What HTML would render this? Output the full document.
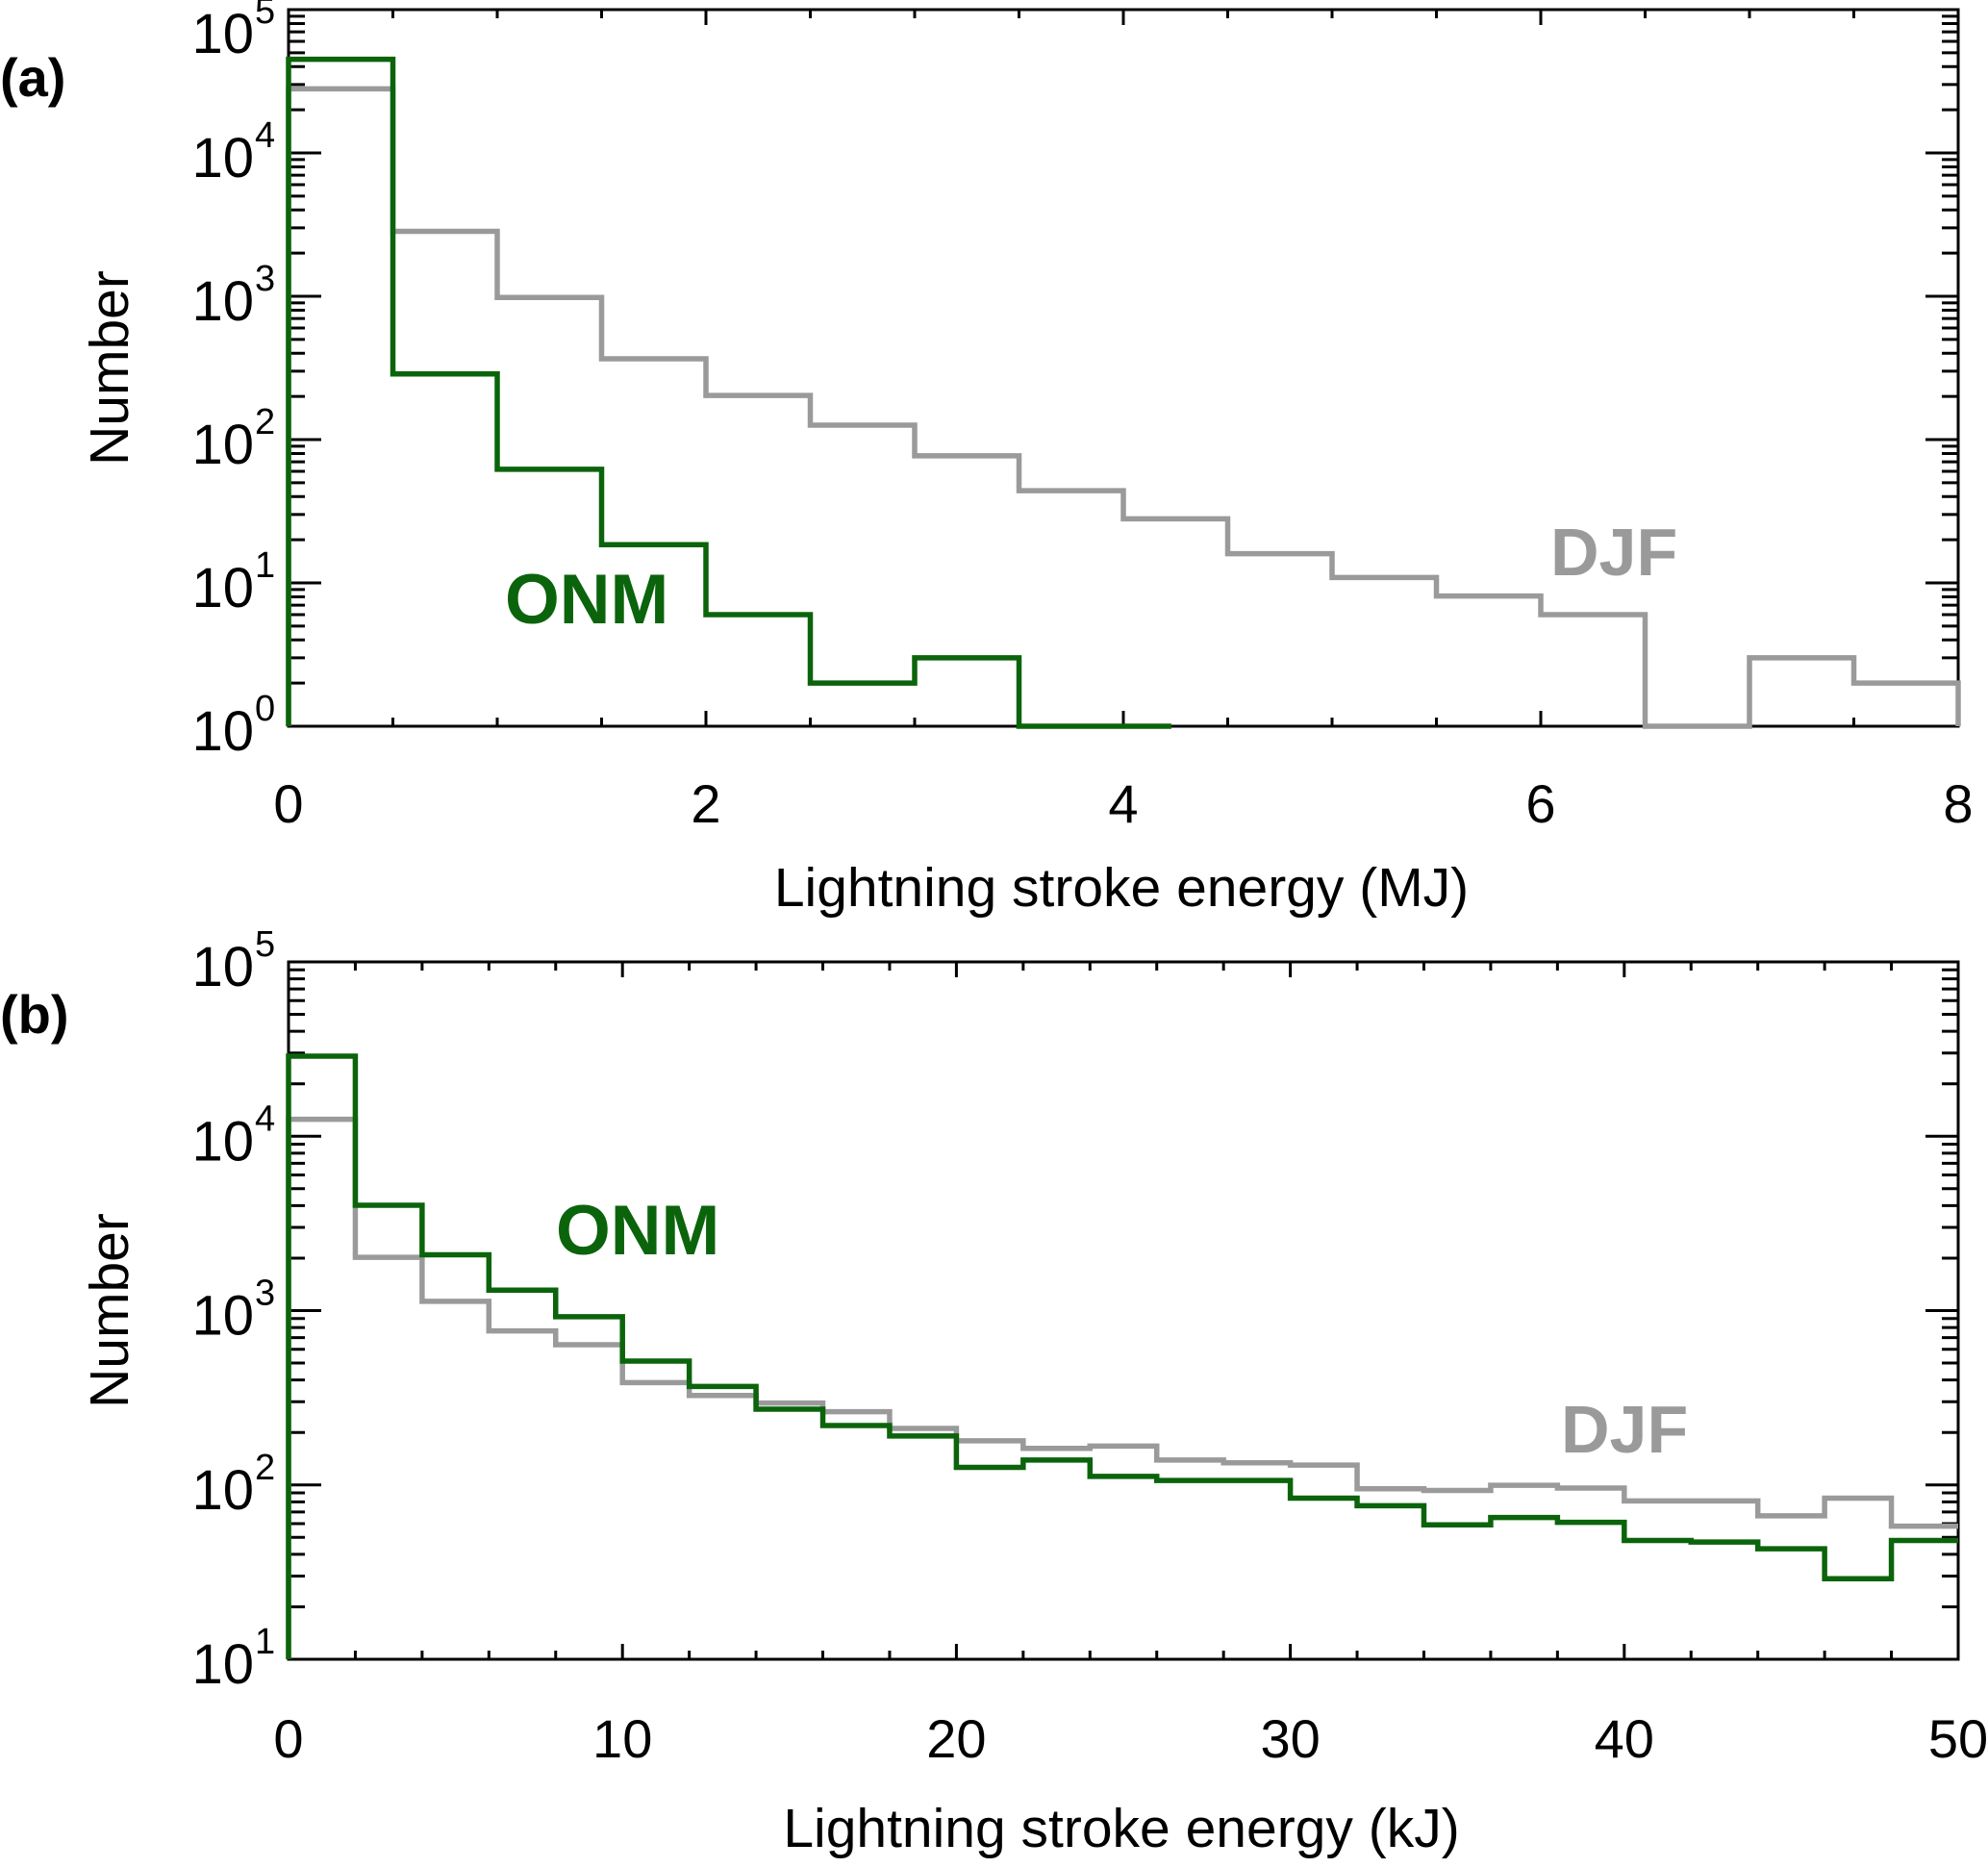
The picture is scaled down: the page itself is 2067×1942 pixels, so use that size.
<!DOCTYPE html>
<html><head><meta charset="utf-8"><style>
html,body{margin:0;padding:0;background:#fff;}
svg{display:block;font-family:"Liberation Sans",sans-serif;}
</style></head><body>
<svg id="chart" width="2067" height="1942" viewBox="0 0 2067 1942" xmlns="http://www.w3.org/2000/svg"></svg>
<script>
// Panel (a): MJ bins of 0.5
const aDjf = [28000, 2840, 980, 366, 203, 126, 77, 44, 28, 16, 10.9, 8.1, 6, 1, 3, 2];
const aOnm = [45000, 287, 62, 18.5, 6, 2, 3, 1, 1];
const aOnmEnd = 4.23;
const aXTicks = [0, 2, 4, 6, 8];
// Panel (b): kJ bins of 2
const bDjf = [12500, 2020, 1130, 765, 637, 386, 326, 295, 263, 211, 179, 162, 167, 139, 134, 130, 95, 93, 99.5, 96, 81, 81, 66.5, 84, 58];
const bOnm = [28800, 4020, 2090, 1310, 922, 513, 367, 272, 219, 191, 126, 139, 112, 106, 106, 84, 76, 59, 65, 61, 48, 47, 43, 29, 48];
const bXTicks = [0, 10, 20, 30, 40, 50];

const NS = "http://www.w3.org/2000/svg";
const svg = document.getElementById("chart");
function mk(tag, attrs, parent) {
  const e = document.createElementNS(NS, tag);
  for (const k in attrs) e.setAttribute(k, attrs[k]);
  (parent || svg).appendChild(e);
  return e;
}
const GREEN = "#0b640b", GRAY = "#9a9a9a";

function panel(cfg) {
  const g = mk("g", {});
  
  
  const L = 300, R = 2036, T = cfg.top, B = cfg.bottom;
  const xs = v => L + (v - cfg.xmin) / (cfg.xmax - cfg.xmin) * (R - L);
  const ys = v => B - (Math.log10(Math.max(v, Math.pow(10, cfg.lmin))) - cfg.lmin) / (cfg.lmax - cfg.lmin) * (B - T);
  const fr = mk("rect", {x: L, y: T, width: R - L, height: B - T, fill: "none", stroke: "#000", "stroke-width": 3}, g);
  
  
  for (let d = cfg.lmin; d < cfg.lmax; d++) {
    for (let m = 1; m <= 9; m++) {
      const y = ys(m * Math.pow(10, d));
      if (y < T) continue;
      const len = m === 1 ? 34 : 17;
      if (!(m === 1 && d === cfg.lmin)) {
        mk("line", {x1: L, x2: L + len, y1: y, y2: y, stroke: "#000", "stroke-width": 3}, g);
        mk("line", {x1: R, x2: R - len, y1: y, y2: y, stroke: "#000", "stroke-width": 3}, g);
      }
    }
  }
  for (let d = cfg.lmin; d <= cfg.lmax; d++) {
    let y = ys(Math.pow(10, d));
    if (y < 30) y = 30;
    const t = mk("text", {x: 264, y: y + 25, "font-size": 58, "text-anchor": "end", fill: "#000"}, g);
    t.textContent = "10";
    
    
    const s = mk("text", {x: 265, y: y - 6, "font-size": 38, fill: "#000"}, g);
    s.textContent = String(d);
    
    
  }
  for (let v = cfg.xmin; v <= cfg.xmax + 1e-9; v += cfg.minor) {
    const x = xs(v);
    const major = Math.abs(v / cfg.major - Math.round(v / cfg.major)) < 1e-6;
    const len = major ? 16 : 9;
    mk("line", {x1: x, x2: x, y1: B, y2: B - len, stroke: "#000", "stroke-width": 3}, g);
    mk("line", {x1: x, x2: x, y1: T, y2: T + len, stroke: "#000", "stroke-width": 3}, g);
  }
  cfg.ticks.forEach(v => {
    const t = mk("text", {x: xs(v), y: cfg.tickY, "font-size": 56, "text-anchor": "middle", fill: "#000"}, g);
    t.textContent = String(v);
    
    
  });
  function step(vals, color, name, endX, dropEnd) {
    const w = cfg.bin;
    let d = `M${xs(0)},${B}`;
    vals.forEach((v, i) => {
      const x0 = xs(i * w), x1 = xs(Math.min((i + 1) * w, endX));
      d += ` L${x0},${ys(v)} L${x1},${ys(v)}`;
    });
    if (dropEnd) d += ` L${xs(Math.min(vals.length * w, endX))},${B}`;
    const p = mk("path", {d: d, fill: "none", stroke: color, "stroke-width": 5.5, "stroke-linejoin": "miter"}, g);
    
    
  }
  step(cfg.djf, GRAY, "djf-histogram", cfg.xmax, cfg.dropEnd);
  step(cfg.onm, GREEN, "onm-histogram", cfg.onmEnd, false);
  const xt = mk("text", {x: 1166, y: cfg.xTitleY, "font-size": 57, "text-anchor": "middle", fill: "#000"}, g);
  xt.textContent = cfg.xTitle;
  
  
  const yc = (T + B) / 2;
  const yt = mk("text", {x: 0, y: 0, "font-size": 57, "text-anchor": "middle", fill: "#000", transform: `translate(133,${yc}) rotate(-90)`}, g);
  yt.textContent = "Number";
  
  
  const pl = mk("text", {x: 0, y: cfg.labelY, "font-size": 56, "font-weight": "bold", fill: "#000"}, g);
  pl.textContent = cfg.label;
  
  
  const on = mk("text", {x: cfg.onmPos[0], y: cfg.onmPos[1], "font-size": 73, "font-weight": "bold", fill: GREEN}, g);
  on.textContent = "ONM";
  
  
  const dj = mk("text", {x: cfg.djfPos[0], y: cfg.djfPos[1], "font-size": 70, "font-weight": "bold", fill: GRAY}, g);
  dj.textContent = "DJF";
  
  
}

panel({name: "panel-a", top: 10, bottom: 755, xmin: 0, xmax: 8, lmin: 0, lmax: 5, minor: 0.5, major: 2, bin: 0.5,
  ticks: aXTicks, djf: aDjf, onm: aOnm, onmEnd: aOnmEnd, dropEnd: true, tickY: 855, xTitleY: 942,
  xTitle: "Lightning stroke energy (MJ)", label: "(a)", labelY: 100, onmPos: [525, 648], djfPos: [1612, 598]});
panel({name: "panel-b", top: 1000, bottom: 1725, xmin: 0, xmax: 50, lmin: 1, lmax: 5, minor: 2, major: 10, bin: 2,
  ticks: bXTicks, djf: bDjf, onm: bOnm, onmEnd: 50, dropEnd: false, tickY: 1827, xTitleY: 1920,
  xTitle: "Lightning stroke energy (kJ)", label: "(b)", labelY: 1074, onmPos: [578, 1304], djfPos: [1623, 1510]});
</script>
</body></html>
